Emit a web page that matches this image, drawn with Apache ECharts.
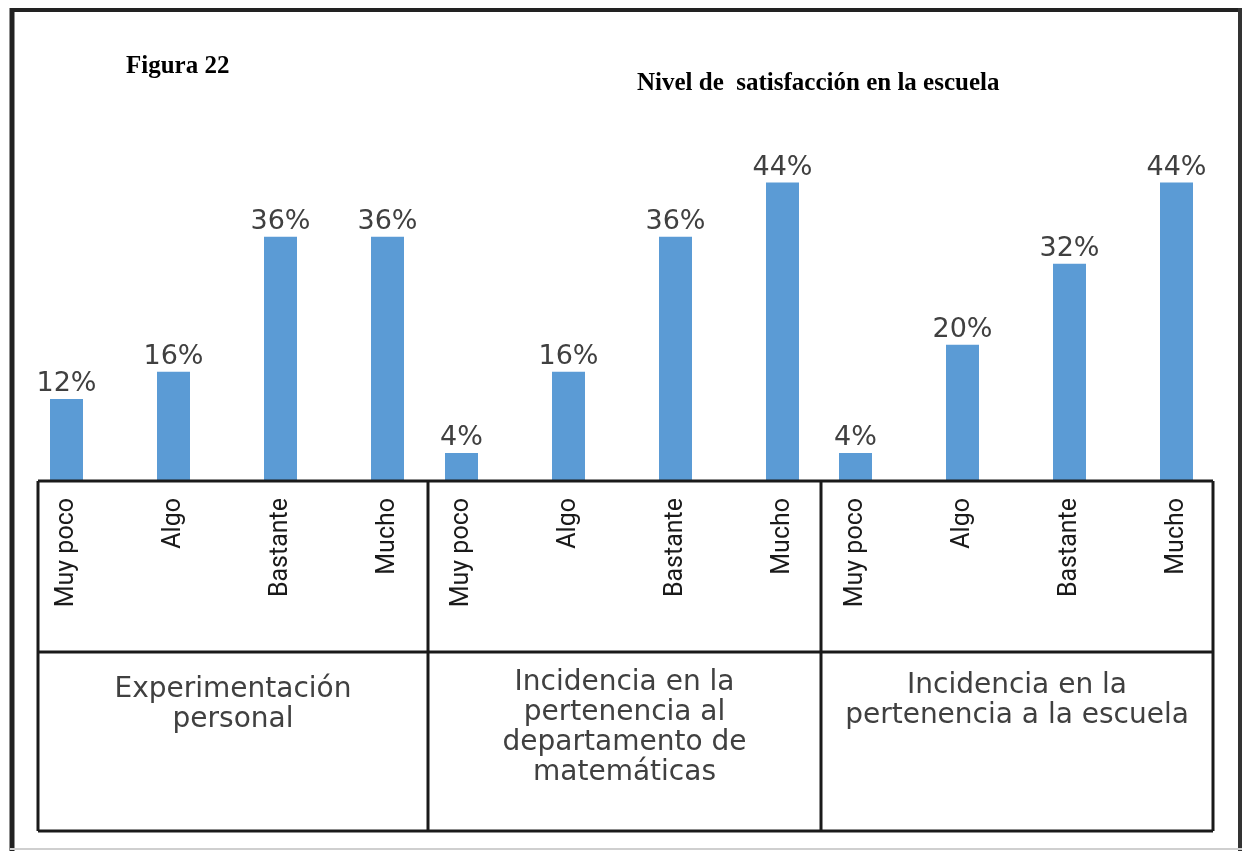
<!DOCTYPE html>
<html>
<head>
<meta charset="utf-8">
<script src="https://cdn.jsdelivr.net/npm/echarts@6/dist/echarts.min.js"></script>
<style>
  html, body { margin: 0; padding: 0; background: #fff; }
  #chart { width: 1246px; height: 852px; }
</style>
</head>
<body>
<div id="chart"></div>
<script>
// data (percent)
const levels = ['Muy poco', 'Algo', 'Bastante', 'Mucho'];
const groups = [
  'Experimentación\npersonal',
  'Incidencia en la\npertenencia al\ndepartamento de\nmatemáticas',
  'Incidencia en la\npertenencia a la escuela'
];
const experimentacion = [12, 16, 36, 36];
const departamento = [4, 16, 36, 44];
const escuela = [4, 20, 32, 44];
const seriesData = [experimentacion, departamento, escuela];

// layout
const barGridLeft = [13, 408, 802];
const cellLeft = [38, 428, 821];
const cellRight = [428, 821, 1213];
const groupLabelMargin = [195, 188, 191];
const tableTop = 481, tableMid = 652, tableBottom = 831;
const blue = '#5b9bd5';

const chart = echarts.init(document.getElementById('chart'));

const grid = [], xAxis = [], yAxis = [], series = [];

seriesData.forEach((vals, i) => {
  grid.push({ left: barGridLeft[i], width: 428, top: 142, height: 338 });
  xAxis.push({
    type: 'category', gridIndex: i, data: levels,
    axisLine: { show: false }, axisTick: { show: false },
    axisLabel: {
      rotate: 90, margin: 18, interval: 0,
      fontFamily: 'Roboto', fontSize: 25, color: '#1a1a1a'
    }
  });
  yAxis.push({ type: 'value', gridIndex: i, min: 0, max: 50, show: false });
  series.push({
    type: 'bar', xAxisIndex: i, yAxisIndex: i, data: vals,
    barWidth: 33,
    itemStyle: { color: blue },
    label: {
      show: true, position: 'top', distance: 1,
      formatter: (p) => p.value + '%',
      fontFamily: 'DejaVu Sans', fontSize: 27, color: '#404040'
    }
  });
});

// one-category axes for the group names in the lower row
groups.forEach((g, i) => {
  const gi = 3 + i;
  grid.push({ left: cellLeft[i], width: cellRight[i] - cellLeft[i], top: 380, height: 100 });
  xAxis.push({
    type: 'category', gridIndex: gi, data: [g],
    axisLine: { show: false }, axisTick: { show: false },
    axisLabel: {
      margin: groupLabelMargin[i], fontFamily: 'DejaVu Sans', fontSize: 28,
      lineHeight: 30, color: '#404040', align: 'center'
    }
  });
  yAxis.push({ type: 'value', gridIndex: gi, show: false });
});

// table and frame lines
const lineStyle = { stroke: '#1a1a1a', lineWidth: 3 };
const graphics = [];
[tableTop, tableMid, tableBottom].forEach((y) => {
  graphics.push({ type: 'line', shape: { x1: cellLeft[0], y1: y, x2: cellRight[2], y2: y }, style: lineStyle, z: 10 });
});
[cellLeft[0], cellLeft[1], cellLeft[2], cellRight[2]].forEach((x) => {
  graphics.push({ type: 'line', shape: { x1: x, y1: tableTop, x2: x, y2: tableBottom }, style: lineStyle, z: 10 });
});
// outer frame
graphics.push({ type: 'line', shape: { x1: 12, y1: 8, x2: 12, y2: 851 }, style: { stroke: '#222', lineWidth: 5 } });
graphics.push({ type: 'line', shape: { x1: 10, y1: 10, x2: 1242, y2: 10 }, style: { stroke: '#222', lineWidth: 4 } });
graphics.push({ type: 'line', shape: { x1: 1240, y1: 8, x2: 1240, y2: 851 }, style: { stroke: '#333', lineWidth: 4 } });
graphics.push({ type: 'line', shape: { x1: 10, y1: 849, x2: 1242, y2: 849 }, style: { stroke: '#cfcfcf', lineWidth: 2 } });

const option = {
  animation: false,
  backgroundColor: '#fff',
  title: [
    {
      text: 'Figura 22', left: 126, top: 54, padding: 0,
      textStyle: { fontFamily: 'Liberation Serif', fontWeight: 'bold', fontSize: 25, color: '#000' }
    },
    {
      text: 'Nivel de  satisfacción en la escuela', left: 637, top: 71, padding: 0,
      textStyle: { fontFamily: 'Liberation Serif', fontWeight: 'bold', fontSize: 25, color: '#000' }
    }
  ],
  grid, xAxis, yAxis, series,
  graphic: graphics
};

chart.setOption(option);
</script>
</body>
</html>
